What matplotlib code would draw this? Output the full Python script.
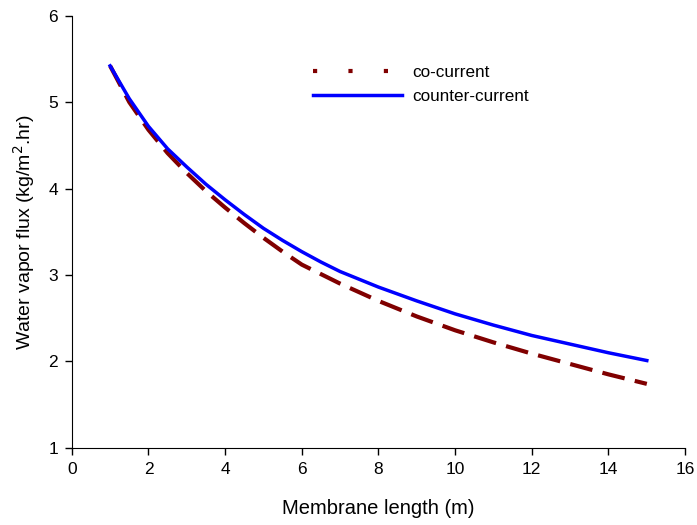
import matplotlib
matplotlib.use("Agg")
import matplotlib.pyplot as plt
from matplotlib.lines import Line2D

plt.rcParams["font.family"] = ["Liberation Sans", "DejaVu Sans"]

# Datos
longitud = [1, 1.5, 2, 2.5, 3, 3.5, 4, 4.5, 5, 5.5, 6, 6.5, 7, 7.5, 8, 9, 10, 11, 12, 13, 14, 15]
co_corriente = [5.42, 5.00, 4.68, 4.41, 4.18, 3.97, 3.78, 3.60, 3.43, 3.27, 3.12, 3.01,
                2.90, 2.80, 2.70, 2.52, 2.36, 2.22, 2.09, 1.97, 1.85, 1.74]
contra_corriente = [5.42, 5.04, 4.72, 4.46, 4.25, 4.05, 3.87, 3.70, 3.54, 3.40, 3.27, 3.15,
                    3.04, 2.95, 2.86, 2.70, 2.55, 2.42, 2.30, 2.20, 2.10, 2.01]

fig = plt.figure(figsize=(6.97, 5.25), dpi=100)
ax = fig.add_axes([0.103, 0.147, 0.880, 0.823])

ax.plot(longitud, co_corriente, color="#800000", lw=3, dashes=(5.5, 2.5))
ax.plot(longitud, contra_corriente, color="#0000ff", lw=2.5)

ax.set_xlim(0, 16)
ax.set_ylim(1, 6)
ax.set_xticks(range(0, 17, 2))
ax.set_yticks(range(1, 7))
ax.tick_params(direction="out", length=5, labelsize=12.5, width=1, pad=5)
ax.spines["top"].set_visible(False)
ax.spines["right"].set_visible(False)

ax.set_xlabel("Membrane length (m)", fontsize=14.5, labelpad=16)
ax.set_ylabel("Water vapor flux (kg/m$^2$.hr)", fontsize=14, labelpad=8)

# Leyenda: la de co-current aparece punteada
handles = [
    Line2D([], [], color="#800000", lw=3, linestyle=(0, (1, 7.5))),
    Line2D([], [], color="#0000ff", lw=2.5),
]
ax.legend(handles, ["co-current", "counter-current"], loc="upper left",
          bbox_to_anchor=(0.393, 0.885), frameon=False, fontsize=12.3,
          handlelength=5.2, handletextpad=0.6, labelspacing=0.5,
          borderpad=0, borderaxespad=0)

fig.savefig("out.png", dpi=100)
